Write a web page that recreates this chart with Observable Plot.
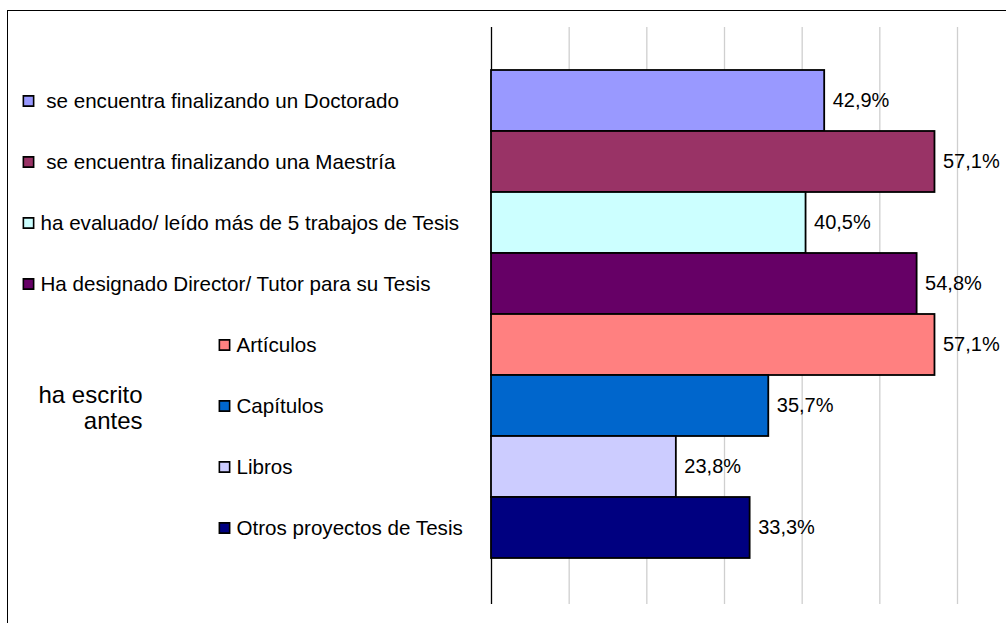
<!DOCTYPE html>
<html>
<head>
<meta charset="utf-8">
<script src="https://cdn.jsdelivr.net/npm/d3@7"></script>
<script src="https://cdn.jsdelivr.net/npm/@observablehq/plot@0.6"></script>
<style>
  html, body { margin: 0; padding: 0; background: #fff; overflow: hidden; }
  #wrap { position: relative; width: 1006px; height: 623px; }
  #border { position: absolute; left: 7px; top: 10px; width: 2000px; height: 2000px; border: 1px solid #000; pointer-events: none; }
  svg text { white-space: pre; }
</style>
</head>
<body>
<div id="wrap"><div id="border"></div></div>
<script>
const categories = [
  " se encuentra finalizando un Doctorado",
  " se encuentra finalizando una Maestría",
  "ha evaluado/ leído más de 5 trabajos de Tesis",
  "Ha designado Director/ Tutor para su Tesis",
  "Artículos",
  "Capítulos",
  "Libros",
  "Otros proyectos de Tesis"
];
const values = [42.9, 57.1, 40.5, 54.8, 57.1, 35.7, 23.8, 33.3];
const groups = ["main", "main", "main", "main", "escrito", "escrito", "escrito", "escrito"];
const colors = ["#9999FF", "#993366", "#CCFFFF", "#660066", "#FF8080", "#0066CC", "#CCCCFF", "#000080"];
const groupLabel = "ha escrito\nantes";
const groupLabelAt = "Capítulos";
const gridTicks = [10, 20, 30, 40, 50, 60];

const data = categories.map((c, i) => ({cat: c, value: values[i], group: groups[i], color: colors[i]}));
const fmt = v => v.toFixed(1).replace(".", ",") + "%";
const font = "Liberation Sans, Arial, sans-serif";

const chart = Plot.plot({
  width: 1006,
  height: 623,
  marginTop: 27,
  marginBottom: 19,
  marginLeft: 491,
  marginRight: 49,
  style: {fontFamily: font, fontSize: "20px", background: "transparent", overflow: "visible"},
  x: {domain: [0, 60], range: [491, 957], axis: null},
  y: {domain: categories, range: [70, 558], padding: 0, axis: null},
  color: {type: "identity"},
  marks: [
    Plot.gridX(gridTicks, {stroke: "#cfcfcf", strokeOpacity: 1, strokeWidth: 1.3}),
    Plot.ruleX([0], {stroke: "#000", strokeWidth: 1.3}),
    Plot.barX(data, {x: "value", y: "cat", fill: "color", stroke: "#000", strokeWidth: 1.8}),
    Plot.text(data, {x: "value", y: "cat", text: d => fmt(d.value), textAnchor: "start", dx: 8, fill: "#000", fontSize: 20}),
    Plot.dot(data.filter(d => d.group === "main"), {y: "cat", frameAnchor: "left", dx: -463, symbol: "square", r: 5.8, fill: "color", stroke: "#000", strokeWidth: 1.6}),
    Plot.text(data.filter(d => d.group === "main"), {y: "cat", text: "cat", frameAnchor: "left", dx: -451, textAnchor: "start", fill: "#000", fontSize: 20.6}),
    Plot.dot(data.filter(d => d.group === "escrito"), {y: "cat", frameAnchor: "left", dx: -267, symbol: "square", r: 5.8, fill: "color", stroke: "#000", strokeWidth: 1.6}),
    Plot.text(data.filter(d => d.group === "escrito"), {y: "cat", text: "cat", frameAnchor: "left", dx: -255, textAnchor: "start", fill: "#000", fontSize: 20.6}),
    Plot.text([groupLabelAt], {y: d => d, text: () => groupLabel, frameAnchor: "left", dx: -349, dy: 2, textAnchor: "end", lineHeight: 1.05, fill: "#000", fontSize: 24})
  ]
});
document.getElementById("wrap").appendChild(chart);
chart.style.position = "absolute";
chart.style.left = "0px";
chart.style.top = "0px";
</script>
</body>
</html>
